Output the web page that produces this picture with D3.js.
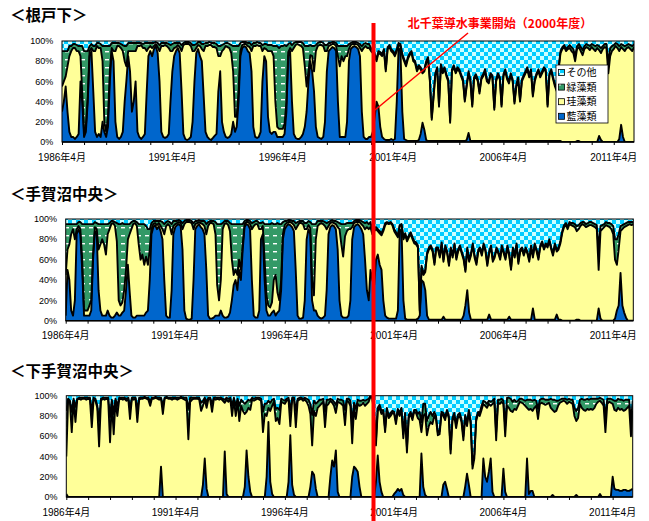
<!DOCTYPE html>
<html>
<head>
<meta charset="utf-8">
<script src="https://cdn.jsdelivr.net/npm/d3@7"></script>
<style>
body { margin: 0; background: #fff; }
text { font-family: "Liberation Sans", "Noto Sans CJK JP", sans-serif; }
</style>
</head>
<body>
<svg id="chart" width="649" height="521"></svg>
<script>
// monthly composition (%) from 1986-04 to 2012-03, one line per fiscal year (Apr..Mar)
var startMonth = new Date(1986, 3, 1);
var keys = ["blue", "diatom", "green", "other"];
var legendLabels = ["その他", "緑藻類", "珪藻類", "藍藻類"];
var legendKeys = ["other", "green", "diatom", "blue"];
var yTickLabels = ["0%", "20%", "40%", "60%", "80%", "100%"];
var xTickYears = [1986, 1991, 1996, 2001, 2006, 2011];
var xTickLabels = ["1986年4月", "1991年4月", "1996年4月", "2001年4月", "2006年4月", "2011年4月"];
var annotation = "北千葉導水事業開始（2000年度）";

// ---- 根戸下 ----
var negotoBlue = [
  30,40,55,30,10,5,5,3,5,8,60,40,
  5,10,40,85,90,50,10,5,8,5,20,10,
  5,15,60,90,80,20,5,3,5,10,40,60,
  85,70,30,40,60,10,5,3,5,8,50,85,
  90,85,92,95,88,60,10,5,4,5,8,40,
  70,85,90,93,88,50,8,3,2,3,5,20,
  60,88,92,85,80,45,10,5,3,2,4,6,
  8,50,70,20,10,5,4,5,8,20,10,15,
  40,85,93,95,94,90,88,70,15,5,4,5,
  10,60,85,80,25,10,8,10,10,5,5,5,
  5,8,30,85,90,40,8,4,3,3,5,8,
  15,30,60,80,70,50,15,5,4,3,5,20,
  70,90,92,94,93,90,40,5,5,5,5,20,
  80,92,94,95,94,92,85,30,5,3,3,5,
  5,10,25,40,35,15,5,3,2,2,2,3,
  2,3,40,93,90,30,3,2,1,1,1,1,
  1,1,2,8,19,12,2,1,1,1,1,1,
  1,1,1,1,1,1,1,1,1,1,1,1,
  1,1,1,1,2,9,1,1,1,1,1,1,
  1,1,1,1,1,1,1,1,1,1,1,1,
  1,1,1,1,1,1,1,1,1,1,1,1,
  1,1,1,1,1,1,1,1,1,1,1,1,
  1,1,1,1,1,1,1,1,0,0,0,0,
  0,0,0,0,1,1,0,0,0,0,0,0,
  0,0,0,0,6,2,0,0,0,0,0,0,
  0,0,0,3,17,5,0,0,0,0,0,0
];
var negotoDiatom = [
  25,20,10,45,75,85,88,90,85,82,25,10,
  5,5,5,5,3,40,80,90,85,88,60,10,
  5,10,10,3,10,70,90,92,88,80,40,15,
  5,20,60,50,30,85,90,93,88,85,40,8,
  5,8,3,2,6,30,85,90,92,90,85,50,
  20,8,4,3,6,40,88,94,95,94,90,70,
  30,5,4,10,12,45,85,90,93,94,90,88,
  85,35,15,70,82,90,90,88,80,50,15,10,
  10,5,3,2,3,5,6,20,80,90,92,90,
  85,30,8,12,65,80,82,75,30,10,8,8,
  8,10,10,4,3,50,85,92,94,93,90,85,
  60,25,10,6,15,20,75,90,92,93,90,70,
  20,5,4,3,4,5,45,70,80,75,80,65,
  12,4,3,2,3,4,8,60,88,92,90,88,
  85,78,60,40,53,72,80,87,68,90,92,87,
  86,82,50,3,5,55,77,73,81,85,87,79,
  77,69,72,64,49,58,76,81,59,21,44,65,
  71,34,74,67,71,64,59,18,69,73,67,71,
  69,64,59,39,53,59,59,34,61,64,59,47,
  61,64,69,59,57,65,63,31,59,65,61,34,
  64,69,61,57,65,59,37,54,61,39,59,63,
  67,71,63,69,44,59,65,69,63,67,71,69,
  34,65,69,61,54,49,71,87,92,94,90,92,
  93,90,88,80,91,93,90,86,92,94,93,91,
  94,92,90,93,85,86,92,94,93,68,85,90,
  92,95,93,87,77,87,90,93,94,92,90,94
];
var negotoGreen = [
  35,30,25,15,10,5,4,4,6,5,10,45,
  80,75,45,5,4,5,5,3,5,4,15,75,
  85,70,25,5,8,8,3,3,4,6,15,20,
  8,8,8,8,8,3,3,2,4,5,8,5,
  3,5,3,2,4,6,3,3,2,3,4,6,
  7,5,4,2,4,6,2,2,2,2,3,6,
  6,4,3,4,5,7,3,3,3,2,4,4,
  4,10,10,6,5,3,4,4,8,25,70,70,
  45,8,3,2,2,3,4,6,3,3,3,3,
  3,6,4,5,6,6,6,10,55,80,80,82,
  82,78,55,8,5,6,5,3,2,3,4,5,
  20,40,25,10,10,25,6,3,3,3,3,6,
  6,3,2,2,2,3,10,20,10,15,10,10,
  5,2,2,2,2,2,4,5,4,3,4,4,
  3,3,2,2,2,2,2,2,2,2,2,2,
  2,2,2,2,2,2,2,2,2,2,2,2,
  2,2,2,2,2,2,2,2,2,2,2,2,
  2,2,2,2,2,2,2,2,2,2,2,2,
  2,2,2,2,2,2,2,2,2,2,2,2,
  2,2,2,2,2,2,2,2,2,2,2,2,
  2,2,2,2,2,2,2,2,2,2,2,2,
  2,2,2,2,2,2,2,2,2,2,2,2,
  2,2,2,2,2,2,2,2,2,2,2,2,
  3,4,4,5,3,3,4,5,3,3,3,4,
  3,4,5,3,4,5,3,3,4,10,8,5,
  4,3,4,5,3,4,5,3,3,4,5,3
];

// ---- 手賀沼中央 ----
var teganumaBlue = [
  5,50,40,10,5,20,85,90,85,50,5,5,
  5,5,10,60,88,85,30,10,5,5,5,10,
  5,3,3,5,8,5,5,8,10,30,55,30,
  5,3,3,5,5,5,5,5,8,10,40,85,
  92,94,90,93,88,80,40,5,3,3,30,85,
  92,94,95,93,70,10,2,1,1,2,40,90,
  93,95,92,90,85,50,5,2,2,3,5,5,
  5,10,5,3,3,4,8,20,35,40,30,50,
  40,70,92,95,94,90,40,5,3,3,10,80,
  85,40,10,5,5,8,10,5,8,10,30,80,
  90,93,95,94,92,88,50,5,2,2,3,20,
  80,90,85,20,10,10,5,3,2,3,5,30,
  85,92,94,93,90,70,20,5,3,3,3,5,
  20,80,92,94,95,93,90,85,60,30,20,50,
  40,35,60,65,55,50,20,5,3,2,2,2,
  2,2,10,88,90,20,2,1,1,1,1,1,
  1,2,5,40,38,30,5,1,1,1,1,1,
  1,1,1,4,1,1,1,1,1,1,1,1,
  1,1,5,15,30,8,1,1,1,1,1,1,
  1,1,1,1,6,1,1,1,1,1,1,1,
  1,1,1,4,1,1,1,1,1,1,1,1,
  1,1,1,1,12,1,1,1,1,1,1,1,
  1,1,1,1,1,6,1,1,0,0,0,0,
  0,0,0,0,1,1,0,0,0,0,0,0,
  0,0,0,0,12,2,0,0,0,0,0,0,
  0,2,10,15,47,15,8,3,0,0,0,0
];
var teganumaDiatom = [
  40,20,35,75,85,60,5,3,5,10,5,5,
  5,10,10,5,4,5,40,65,75,70,60,75,
  85,92,93,88,70,15,10,10,20,20,25,55,
  85,92,93,88,70,55,60,50,55,45,30,5,
  3,2,4,3,5,10,45,88,92,90,55,8,
  3,2,2,3,20,85,95,96,96,94,50,5,
  3,2,4,5,8,35,88,94,94,92,80,30,
  15,30,85,92,93,90,80,40,10,10,15,10,
  10,5,3,2,3,5,50,88,92,92,80,10,
  8,20,15,10,8,10,30,40,20,10,10,5,
  4,3,2,3,4,6,40,88,94,94,92,70,
  10,4,6,20,15,70,88,92,94,92,88,60,
  8,4,3,3,5,22,70,70,60,80,85,85,
  70,12,4,3,2,4,5,8,30,62,70,42,
  45,53,30,23,31,34,68,89,93,93,94,92,
  86,83,72,5,4,60,82,77,81,84,79,75,
  74,70,3,12,7,18,60,69,71,67,54,69,
  69,61,74,54,71,65,53,69,61,73,59,67,
  71,65,55,33,40,50,63,73,61,54,67,69,
  63,73,67,53,60,71,57,61,69,65,59,71,
  65,59,71,60,49,69,61,73,55,67,69,63,
  69,65,57,71,50,73,67,59,71,75,69,73,
  71,77,69,63,73,62,69,75,86,92,94,90,
  95,94,93,92,87,89,93,95,94,92,93,94,
  94,93,92,90,38,86,90,92,94,93,92,90,
  85,58,45,55,41,75,84,90,94,95,94,95
];
var teganumaGreen = [
  50,25,20,10,5,15,5,4,7,35,85,85,
  85,80,75,30,5,6,25,20,15,20,30,10,
  6,3,2,4,18,75,80,78,65,45,15,10,
  7,3,2,4,20,35,30,40,30,35,20,6,
  3,2,4,2,5,7,10,4,3,4,10,5,
  3,2,2,2,6,3,2,2,2,2,6,3,
  2,2,2,3,5,10,4,2,2,3,12,60,
  75,55,6,3,2,4,8,35,50,45,50,35,
  45,20,3,2,2,3,6,4,3,3,6,6,
  4,35,70,80,82,78,55,50,68,75,55,12,
  4,2,2,2,2,4,6,4,2,2,3,6,
  6,4,6,55,70,15,5,3,2,3,4,6,
  4,2,2,2,3,5,6,20,32,12,8,6,
  6,4,2,2,2,2,3,4,6,5,5,5,
  3,3,2,2,2,2,2,2,1,1,1,1,
  2,2,2,1,1,2,2,2,2,2,2,2,
  2,2,2,2,2,2,2,2,2,2,2,2,
  2,2,2,2,2,2,2,2,2,2,2,2,
  2,2,2,2,2,2,2,2,2,2,2,2,
  2,2,2,2,2,2,2,2,2,2,2,2,
  2,2,2,2,2,2,2,2,2,2,2,2,
  2,2,2,2,2,2,2,2,2,2,2,2,
  2,2,2,2,2,2,2,2,2,2,2,2,
  2,2,3,3,5,4,3,2,3,3,3,3,
  3,3,3,4,20,5,4,3,3,3,4,5,
  8,20,25,15,5,4,3,3,3,2,3,2
];

// ---- 下手賀沼中央 ----
var shimoBlue = [
  3,0,0,0,0,0,0,0,0,0,0,0,
  0,0,0,0,0,0,0,0,0,0,0,0,
  0,0,0,0,0,0,0,0,0,0,0,0,
  0,0,0,0,0,0,0,0,0,0,0,0,
  0,0,0,0,30,0,0,0,0,0,0,0,
  0,0,0,0,0,0,0,0,0,0,0,0,
  0,0,0,12,38,8,0,0,0,0,0,0,
  0,0,0,45,3,0,0,0,0,0,0,0,
  0,0,10,46,20,5,0,0,0,0,0,0,
  0,0,20,74,15,3,0,0,0,0,0,0,
  0,0,15,61,12,2,0,0,0,0,0,0,
  0,0,10,25,22,8,0,0,0,0,0,0,
  0,20,36,30,46,5,0,0,0,0,0,0,
  0,20,30,28,25,10,0,0,0,0,0,0,
  0,0,15,41,15,5,0,0,0,0,0,0,
  3,5,8,6,8,2,0,0,0,0,0,0,
  0,0,0,43,10,2,0,0,0,0,0,0,
  0,0,0,12,15,8,0,0,0,0,0,0,
  0,0,0,10,23,12,0,0,0,0,0,0,
  0,38,20,15,25,38,5,0,0,0,0,0,
  28,5,0,0,0,0,0,0,0,0,0,0,
  0,38,3,6,6,0,0,0,0,0,0,0,
  0,0,0,2,0,0,0,0,0,0,0,0,
  0,0,0,0,2,0,0,0,0,0,0,0,
  0,0,0,0,0,3,0,0,0,0,0,0,
  20,8,7,7,6,6,7,7,6,6,7,8
];
var shimoDiatom = [
  37,95,93,64,95,74,96,97,96,97,97,96,
  97,96,69,96,95,88,50,95,97,96,97,96,
  54,93,62,95,80,96,97,96,97,95,96,77,
  97,96,97,74,96,97,97,98,97,96,90,97,
  97,98,97,96,67,82,97,98,97,97,96,97,
  97,96,97,98,97,96,95,57,94,96,97,97,
  97,96,85,78,58,80,97,96,84,97,96,97,
  96,97,95,48,93,94,97,80,96,80,95,75,
  90,85,72,38,68,81,96,95,96,97,96,95,
  64,82,60,14,70,87,94,75,78,72,94,93,
  92,95,81,9,84,94,69,95,96,97,95,96,
  94,90,72,26,63,72,88,90,92,94,69,90,
  92,75,57,60,37,89,93,92,90,71,95,94,
  90,33,58,49,67,80,91,93,90,92,94,99,
  98,80,36,44,73,77,84,64,86,78,80,83,
  79,67,77,74,78,56,80,44,78,82,76,84,
  83,78,76,21,70,80,61,70,74,72,80,77,
  61,62,82,68,61,76,78,43,75,80,68,78,
  80,74,56,68,47,72,72,28,38,75,82,80,
  86,54,70,73,67,52,87,94,56,93,92,94,
  64,55,90,88,85,84,87,86,90,94,93,92,
  90,50,83,81,79,88,90,77,92,93,92,91,
  92,93,88,84,84,85,90,93,94,95,94,92,
  94,93,92,80,73,78,92,88,86,85,87,86,
  87,86,88,92,94,92,93,90,64,92,94,93,
  72,78,78,81,80,81,78,79,82,84,53,77
];
var shimoGreen = [
  45,2,2,20,2,15,1,1,2,1,1,2,
  1,2,15,2,2,2,25,2,1,2,1,2,
  25,3,20,2,10,2,1,2,1,2,2,10,
  1,2,1,12,2,1,1,1,1,2,4,1,
  1,1,1,2,1,8,1,1,1,1,2,1,
  1,2,1,1,1,2,3,30,4,2,1,1,
  1,2,8,5,2,6,1,2,8,1,2,1,
  2,1,2,3,2,3,1,10,2,10,2,15,
  6,9,10,10,8,9,2,2,2,1,2,2,
  20,10,12,7,8,6,3,12,10,14,3,3,
  3,2,2,15,2,2,16,2,2,1,2,2,
  3,6,10,30,10,12,6,6,4,3,15,6,
  4,2,3,4,8,3,3,4,5,15,2,3,
  5,20,5,10,4,5,4,3,5,4,3,1,
  1,3,5,3,3,3,2,4,2,2,3,2,
  2,3,2,3,2,4,3,5,3,2,3,2,
  3,4,8,10,12,10,14,10,10,8,4,3,
  3,3,2,3,3,2,3,4,3,3,4,3,
  3,3,4,3,3,2,3,4,4,3,2,3,
  4,3,4,4,3,4,3,3,8,3,4,3,
  3,10,8,10,12,10,9,8,5,3,4,4,
  5,8,10,9,10,8,5,10,4,4,5,5,
  4,3,9,10,12,10,5,3,3,2,3,4,
  3,3,4,8,10,10,4,9,10,11,10,10,
  10,11,9,5,3,3,4,6,15,5,3,4,
  4,9,10,9,10,9,10,10,8,6,15,10
];

var panels = [
  { title: "＜根戸下＞", blue: negotoBlue, diatom: negotoDiatom, green: negotoGreen,
    x0: 62, x1: 634, y0: 41, y1: 142, titleY: 20.5, legend: true },
  { title: "＜手賀沼中央＞", blue: teganumaBlue, diatom: teganumaDiatom, green: teganumaGreen,
    x0: 65.7, x1: 633.3, y0: 219, y1: 320.7, titleY: 200 },
  { title: "＜下手賀沼中央＞", blue: shimoBlue, diatom: shimoDiatom, green: shimoGreen,
    x0: 66.3, x1: 632.7, y0: 395.7, y1: 497, titleY: 377 }
];

var svg = d3.select("#chart");
var defs = svg.append("defs");

var checker = defs.append("pattern").attr("id", "checker")
    .attr("width", 8).attr("height", 8).attr("patternUnits", "userSpaceOnUse");
checker.append("rect").attr("width", 8).attr("height", 8).attr("fill", "#CCFFFF");
checker.append("rect").attr("width", 4).attr("height", 4).attr("fill", "#00CCFF");
checker.append("rect").attr("x", 4).attr("y", 4).attr("width", 4).attr("height", 4).attr("fill", "#00CCFF");

var dash = defs.append("pattern").attr("id", "dash")
    .attr("width", 8).attr("height", 8).attr("patternUnits", "userSpaceOnUse");
dash.append("rect").attr("width", 8).attr("height", 8).attr("fill", "#339966");
dash.append("rect").attr("x", 1).attr("y", 3).attr("width", 4).attr("height", 1.4).attr("fill", "#fff");

var fills = { blue: "#0066CC", diatom: "#FFFF99", green: "url(#dash)", other: "url(#checker)" };

panels.forEach(function(p, pi) {
    var n = p.blue.length;
    var months = d3.range(n).map(function(i) { return d3.timeMonth.offset(startMonth, i); });
    var rows = months.map(function(d, i) {
        var b = p.blue[i], t = p.diatom[i], g = p.green[i];
        return { date: d, blue: b, diatom: t, green: g, other: Math.max(0, 100 - b - t - g) };
    });

    var x = d3.scaleTime().domain([months[0], months[n - 1]]).range([p.x0, p.x1]);
    var y = d3.scaleLinear().domain([0, 1]).range([p.y1, p.y0]);
    var series = d3.stack().keys(keys).offset(d3.stackOffsetExpand)(rows);

    var g = svg.append("g");
    defs.append("clipPath").attr("id", "clip" + pi)
        .append("rect").attr("x", p.x0).attr("y", p.y0)
        .attr("width", p.x1 - p.x0).attr("height", p.y1 - p.y0);

    var plot = g.append("g").attr("clip-path", "url(#clip" + pi + ")");
    var area = d3.area()
        .x(function(d) { return x(d.data.date); })
        .y0(function(d) { return y(d[0]); })
        .y1(function(d) { return y(d[1]); });
    plot.selectAll("path.layer").data(series).join("path")
        .attr("class", "layer")
        .attr("fill", function(d) { return fills[d.key]; })
        .attr("d", area);

    var edge = d3.line()
        .x(function(d) { return x(d.data.date); })
        .y(function(d) { return y(d[1]); });
    plot.selectAll("path.edge").data(series.slice(0, 3)).join("path")
        .attr("class", "edge")
        .attr("fill", "none")
        .attr("stroke", "#000")
        .attr("stroke-width", 1.9)
        .attr("stroke-linejoin", "round")
        .attr("d", edge);

    g.append("rect").attr("x", p.x0).attr("y", p.y0)
        .attr("width", p.x1 - p.x0).attr("height", p.y1 - p.y0)
        .attr("fill", "none").attr("stroke", "#000").attr("stroke-width", 1);
    g.append("line").attr("x1", p.x0).attr("x2", p.x1)
        .attr("y1", p.y1).attr("y2", p.y1)
        .attr("stroke", "#000").attr("stroke-width", 1.6);

    // y labels
    g.selectAll("text.ylab").data(yTickLabels).join("text")
        .attr("class", "ylab")
        .attr("x", p.x0 - 8.7)
        .attr("y", function(d, i) { return y(i / 5); })
        .attr("dy", "0.35em")
        .attr("text-anchor", "end")
        .attr("font-size", 9)
        .text(function(d) { return d; });

    // x ticks, one per April
    var yearTicks = d3.range(1986, 2012).map(function(yr) { return new Date(yr, 3, 1); });
    var xAxis = d3.axisBottom(x).tickValues(yearTicks).tickSize(3).tickFormat("");
    g.append("g").attr("transform", "translate(0," + p.y1 + ")").call(xAxis)
        .call(function(s) { s.select(".domain").remove(); });

    g.selectAll("text.xlab").data(xTickLabels).join("text")
        .attr("class", "xlab")
        .attr("x", function(d, i) { return x(new Date(xTickYears[i], 3, 1)); })
        .attr("y", p.y1 + 18.5)
        .attr("text-anchor", "middle")
        .attr("font-size", 10)
        .text(function(d) { return d; });

    svg.append("text")
        .attr("x", 10)
        .attr("y", p.titleY)
        .attr("font-size", 15.5)
        .attr("font-weight", "bold")
        .style("font-family", "'Noto Sans CJK JP', sans-serif")
        .text(p.title);

    if (p.legend) {
        var lg = svg.append("g").attr("transform", "translate(556,65)");
        lg.append("rect").attr("width", 52).attr("height", 58)
            .attr("fill", "#fff").attr("stroke", "#000").attr("stroke-width", 0.8);
        legendKeys.forEach(function(k, i) {
            var cy = 7.5 + i * 14.6;
            lg.append("rect").attr("x", 2.5).attr("y", cy - 3).attr("width", 6).attr("height", 6)
                .attr("fill", fills[k]).attr("stroke", "#000").attr("stroke-width", 0.8);
            lg.append("text").attr("x", 10.5).attr("y", cy).attr("dy", "0.36em")
                .attr("font-size", 10)
                .style("font-family", "'Noto Sans CJK JP', sans-serif")
                .text(legendLabels[i]);
        });
    }
});

// 北千葉導水 marker
svg.append("line").attr("x1", 373.5).attr("x2", 373.5).attr("y1", 23).attr("y2", 521)
    .attr("stroke", "#FF0000").attr("stroke-width", 4);
svg.append("line").attr("x1", 468).attr("y1", 33).attr("x2", 375).attr("y2", 110)
    .attr("stroke", "#FF0000").attr("stroke-width", 1.5);
svg.append("text").attr("x", 500).attr("y", 28)
    .attr("text-anchor", "middle")
    .attr("font-size", 12).attr("font-weight", "bold")
    .attr("fill", "#FF0000")
    .style("font-family", "'Noto Sans CJK JP', sans-serif")
    .text(annotation);
</script>
</body>
</html>
